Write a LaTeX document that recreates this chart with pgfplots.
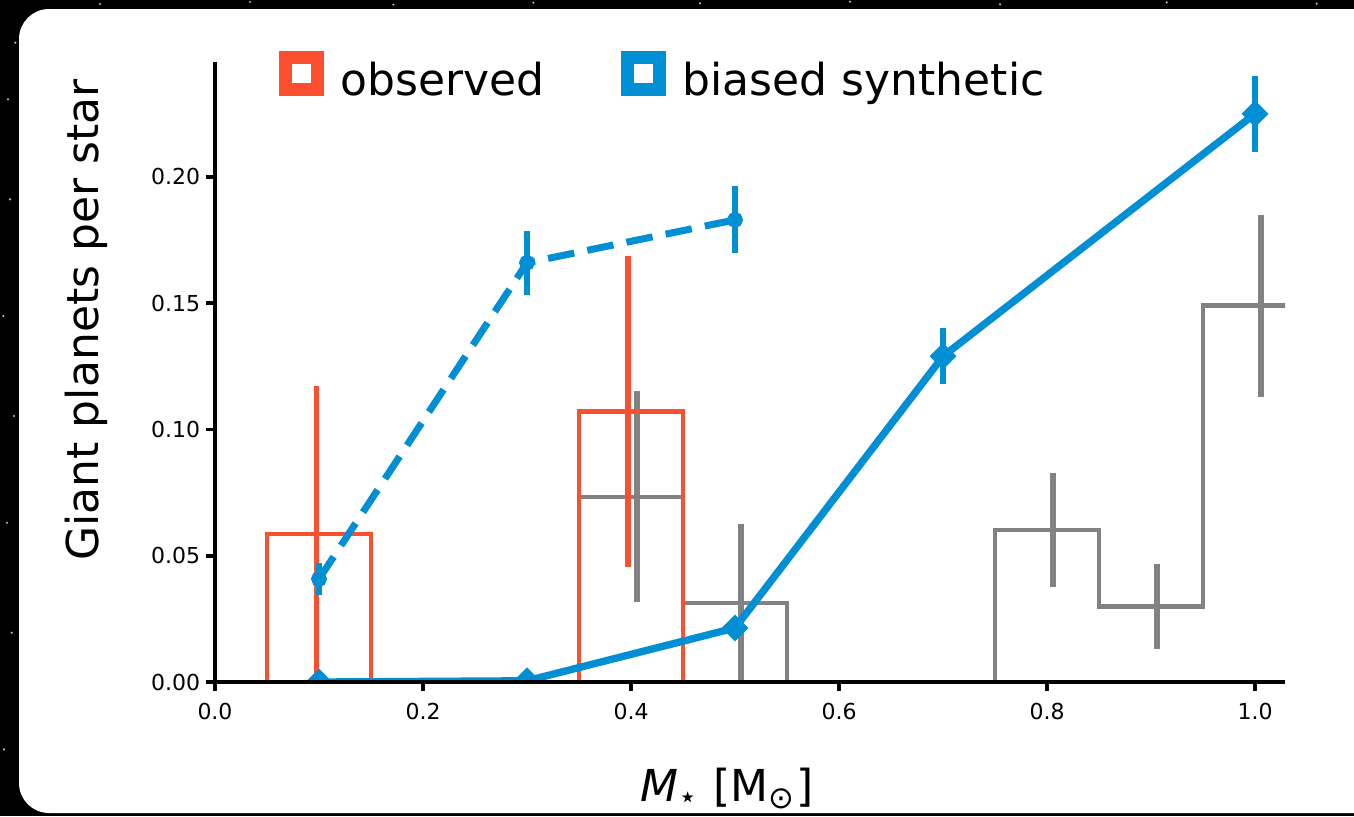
\documentclass[border=0pt]{standalone}
\usepackage{pgfplots}
\pgfplotsset{compat=1.18}
\usepackage{fontspec}
\setmainfont{DejaVu Sans}

\definecolor{obsred}{HTML}{FC4F30}
\definecolor{synblue}{HTML}{008FD5}
\definecolor{histgray}{HTML}{828282}

\begin{document}
\begin{tikzpicture}
% dark backdrop with a white rounded card
\clip (0,0) rectangle (406.2pt,244.8pt);
\fill[black] (0,0) rectangle (406.2pt,244.8pt);
\foreach \sx/\sy in {1.2/20,3.5/55,2.1/88,4.2/120,1.0/150,3.0/185,2.4/215,4.6/232,
                     30/243.6,75/244.2,118/243.4,160/244,210/243.8,255/244.3,300/243.5,350/244.1,395/243.7}
  \fill[white!75!black] (\sx pt,\sy pt) circle (0.35pt);
\fill[white, rounded corners=9pt] (5.7pt,0.9pt) rectangle (430pt,242.1pt);

\begin{axis}[
  at={(64.5pt,40.2pt)}, anchor=south west,
  scale only axis, width=321pt, height=186pt,
  xmin=0, xmax=1.0288, ymin=0, ymax=0.2455,
  axis x line*=bottom, axis y line*=left,
  axis on top,
  axis line style={line width=1.1pt, black},
  tick align=outside, major tick length=2.7pt,
  tick style={line width=1.1pt, black},
  xtick={0,0.2,0.4,0.6,0.8,1.0},
  ytick={0,0.05,0.10,0.15,0.20},
  ticklabel style={font=\fontsize{6.6}{8}\selectfont},
  xticklabel style={/pgf/number format/.cd, fixed, fixed zerofill, precision=1, assume math mode=true},
  yticklabel style={xshift=1.8pt, /pgf/number format/.cd, fixed, fixed zerofill, precision=2, assume math mode=true},
  clip marker paths=true,
  xlabel={\textit{M}\textsubscript{⋆} [M\textsubscript{⊙}]},
  xlabel style={font=\fontsize{13.2}{16}\selectfont, at={(axis description cs:0.4785,-0.1935)}, anchor=base},
  ylabel={Giant planets per star},
  ylabel style={font=\fontsize{13.2}{16}\selectfont, at={(axis description cs:-0.120,0.584)}, anchor=center},
  legend style={at={(axis description cs:0.059,0.9725)}, anchor=west, draw=none, fill=none,
    font=\fontsize{13.2}{16}\selectfont, inner sep=0pt},
  legend columns=2,
  legend cell align=left,
  /tikz/every odd column/.append style={column sep=3pt},
  /tikz/every even column/.append style={column sep=21pt},
]

% model histogram (step outline)
\addplot[histgray, line width=1.4pt, const plot, forget plot] coordinates {
  (0.35,0) (0.35,0.0733) (0.45,0.0313) (0.55,0) (0.65,0)
  (0.75,0.0602) (0.85,0.0298) (0.95,0.149) (1.05,0.149) (1.05,0)};
\addplot[draw=none, mark=none, forget plot,
  error bars/.cd, y dir=both, y explicit, error mark=none,
  error bar style={draw=histgray, line width=1.6pt}] coordinates {
  (0.4056,0.0733) +- (0,0.0418)
  (0.5056,0.0313) +- (0,0.0312)
  (0.8056,0.0602) +- (0,0.0226)
  (0.9056,0.0298) +- (0,0.0168)
  (1.0056,0.149)  +- (0,0.036)};

% observed histogram (step outline)
\addplot[obsred, line width=1.4pt, const plot, forget plot] coordinates {
  (0.05,0) (0.05,0.0586) (0.15,0) (0.25,0) (0.35,0.107) (0.45,0) (0.55,0)
  (0.65,0) (0.75,0)};
\addplot[draw=none, mark=none, forget plot,
  error bars/.cd, y dir=both, y explicit, error mark=none,
  error bar style={draw=obsred, line width=1.7pt}] coordinates {
  (0.0975,0.0586) +- (0,0.0586)
  (0.3970,0.107)  +- (0,0.0616)};

% biased synthetic, dashed branch
\addplot[synblue, line width=2.1pt, dash pattern=on 8pt off 4pt,
  mark=*, mark size=1.3pt, mark options={solid}, forget plot,
  error bars/.cd, y dir=both, y explicit, error mark=none,
  error bar style={line width=1.9pt, synblue, solid}] coordinates {
  (0.1,0.0408) +- (0,0.0063)
  (0.3,0.166)  +- (0,0.0127)
  (0.5,0.183)  +- (0,0.0133)};

% biased synthetic, solid branch
\addplot[synblue, line width=2.2pt, mark=square*, mark size=2.7pt,
  mark options={rotate=45, solid, line width=0.3pt}, forget plot,
  error bars/.cd, y dir=both, y explicit, error mark=none,
  error bar style={line width=1.9pt, synblue}] coordinates {
  (0.1,0.0)    +- (0,0)
  (0.3,0.0005) +- (0,0.0003)
  (0.5,0.0214) +- (0,0.003)
  (0.7,0.129)  +- (0,0.011)
  (1.0,0.225)  +- (0,0.015)};

\addlegendimage{legend image code/.code={\draw[obsred, line width=3.9pt] (1.95pt,-2.2pt) rectangle (11.55pt,7.4pt);}}
\addlegendentry{observed}
\addlegendimage{legend image code/.code={\draw[synblue, line width=3.9pt] (1.95pt,-2.2pt) rectangle (11.55pt,7.4pt);}}
\addlegendentry{biased synthetic}
\end{axis}
\end{tikzpicture}
\end{document}
